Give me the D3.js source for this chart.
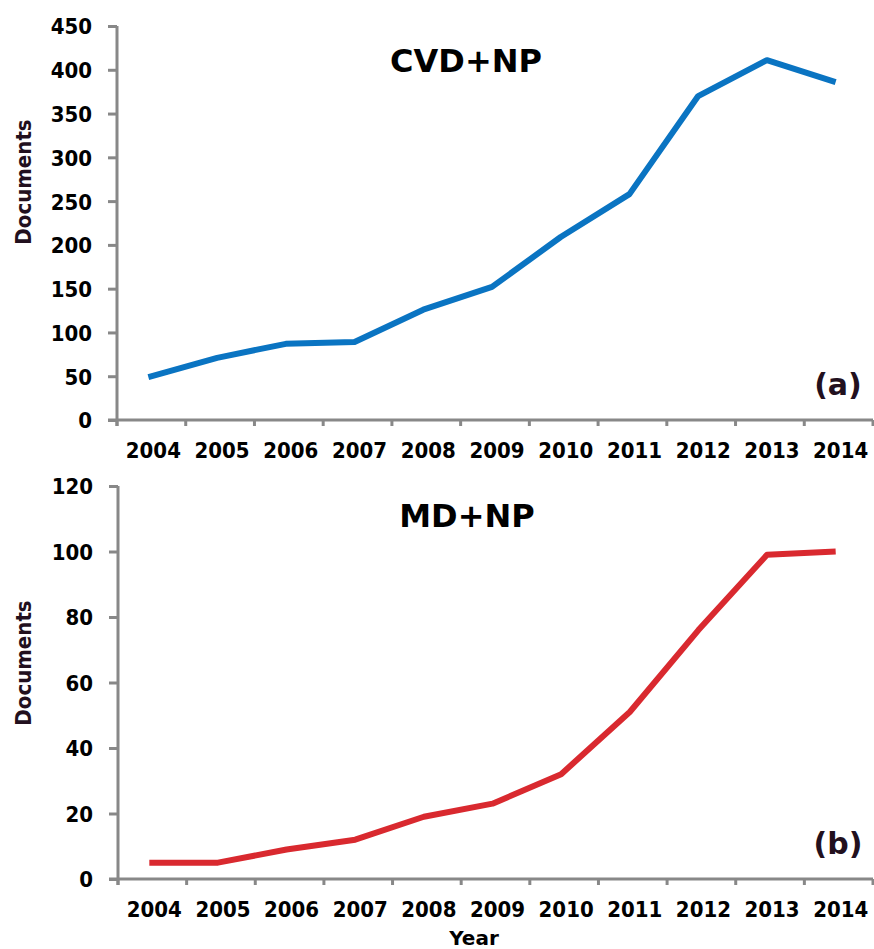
<!DOCTYPE html>
<html>
<head>
<meta charset="utf-8">
<script src="https://cdn.jsdelivr.net/npm/d3@7"></script>
<style>
  html, body { margin: 0; padding: 0; background: #fff; }
  svg { display: block; }
  .tick-label { font-family: "DejaVu Sans Condensed", "DejaVu Sans", sans-serif; font-stretch: condensed; font-weight: bold; font-size: 22px; fill: #000; }
</style>
</head>
<body>
<svg id="chart" width="874" height="949"></svg>
<script>
// ---- Data ----
const years = ["2004","2005","2006","2007","2008","2009","2010","2011","2012","2013","2014"];
const cvdValues = [49, 71, 87, 89, 126, 152, 209, 258, 370, 411, 386];
const mdValues  = [5, 5, 9, 12, 19, 23, 32, 51, 76, 99, 100];
const cvdTicks = [0, 50, 100, 150, 200, 250, 300, 350, 400, 450];
const mdTicks  = [0, 20, 40, 60, 80, 100, 120];

const svg = d3.select("#chart");
const axisColor = "#888888";
const darkText = "#22101e";

function panel(cfg) {
  const x = d3.scaleBand().domain(years).range([cfg.left, cfg.right]).padding(0);
  const y = d3.scaleLinear().domain([0, cfg.max]).range([cfg.bottom, cfg.top]);
  const g = svg.append("g");

  // y axis
  const yAxis = g.append("g")
    .attr("transform", `translate(${cfg.left},0)`)
    .call(d3.axisLeft(y).tickValues(cfg.ticks).tickSize(9).tickSizeOuter(0).tickPadding(16));
  yAxis.select(".domain").attr("stroke", axisColor).attr("stroke-width", 3)
    .attr("d", `M0,${cfg.top}V${cfg.bottom + 6}`);
  yAxis.selectAll(".tick line").attr("stroke", axisColor).attr("stroke-width", 3);
  yAxis.selectAll(".tick text").attr("class", "tick-label").attr("dy", "0.36em").attr("x", -cfg.yLabelGap);

  // x axis
  const xAxis = g.append("g")
    .attr("transform", `translate(0,${cfg.bottom})`)
    .call(d3.axisBottom(x).tickSize(0).tickSizeOuter(0).tickPadding(0));
  xAxis.select(".domain").attr("stroke", axisColor).attr("stroke-width", 3)
    .attr("d", `M${cfg.left - 9},0H${cfg.right}`);
  xAxis.selectAll(".tick text").attr("class", "tick-label").attr("dy", null)
    .attr("y", cfg.xLabelBaseline - cfg.bottom).attr("dominant-baseline", "auto")
    .attr("x", 2);
  // boundary ticks
  const bounds = years.map(d => x(d)).concat([x(years[years.length - 1]) + x.bandwidth()]);
  xAxis.selectAll(".btick").data(bounds).join("line")
    .attr("class", "btick")
    .attr("x1", d => d).attr("x2", d => d)
    .attr("y1", 0).attr("y2", 6)
    .attr("stroke", axisColor).attr("stroke-width", 3);

  // line
  const line = d3.line()
    .x((d, i) => x(years[i]) + x.bandwidth() / 2 - 3)
    .y(d => y(d));
  g.append("path").datum(cfg.values)
    .attr("d", line)
    .attr("fill", "none")
    .attr("stroke", cfg.color)
    .attr("stroke-width", 6)
    .attr("stroke-linejoin", "round");

  // y label
  g.append("text")
    .attr("transform", `translate(${cfg.yTitleX},${cfg.yTitleY}) rotate(-90)`)
    .attr("text-anchor", "middle")
    .attr("font-family", "'DejaVu Sans Condensed', 'DejaVu Sans', sans-serif")
    .attr("font-stretch", "condensed")
    .attr("font-weight", "bold")
    .attr("font-size", 22)
    .attr("fill", darkText)
    .text("Documents");

  // title
  g.append("text")
    .attr("x", cfg.titleX).attr("y", cfg.titleY)
    .attr("text-anchor", "middle")
    .attr("font-family", "'DejaVu Sans', sans-serif")
    .attr("font-weight", "bold")
    .attr("font-size", 32)
    .attr("fill", "#000")
    .text(cfg.title);

  // panel letter
  g.append("text")
    .attr("x", 838).attr("y", cfg.letterY)
    .attr("text-anchor", "middle")
    .attr("font-family", "'DejaVu Sans', sans-serif")
    .attr("font-weight", "bold")
    .attr("font-size", 30)
    .attr("fill", darkText)
    .text(cfg.letter);
}

panel({
  values: cvdValues, ticks: cvdTicks, max: 450,
  left: 117, right: 873, top: 26, bottom: 420,
  yLabelGap: 25, xLabelBaseline: 458,
  color: "#0a74c2",
  yTitleX: 31, yTitleY: 182,
  title: "CVD+NP", titleX: 466, titleY: 72,
  letter: "(a)", letterY: 395
});

panel({
  values: mdValues, ticks: mdTicks, max: 120,
  left: 118, right: 873, top: 486, bottom: 879,
  yLabelGap: 25, xLabelBaseline: 917,
  color: "#d9292f",
  yTitleX: 31, yTitleY: 663,
  title: "MD+NP", titleX: 467, titleY: 527,
  letter: "(b)", letterY: 854
});

// x title
svg.append("text")
  .attr("x", 474).attr("y", 945)
  .attr("text-anchor", "middle")
  .attr("font-family", "'DejaVu Sans', sans-serif")
  .attr("font-weight", "bold")
  .attr("font-size", 20)
  .attr("fill", "#000")
  .text("Year");
</script>
</body>
</html>
